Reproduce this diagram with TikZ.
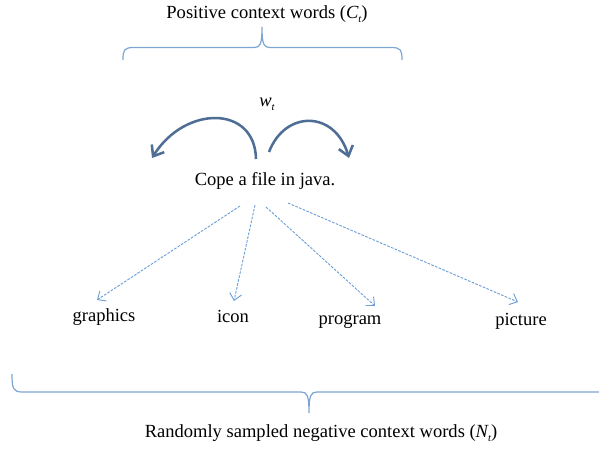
\documentclass[tikz,border=0pt]{standalone}
\usepackage{fontspec}
\setmainfont{Liberation Serif}
\usetikzlibrary{arrows.meta}
\definecolor{arcblue}{RGB}{78,110,150}
\definecolor{dashblue}{RGB}{110,160,215}
\definecolor{braceblue}{RGB}{125,165,210}
\newcommand\subt{\raisebox{-0.45ex}{\footnotesize\itshape t}}
\tikzset{
  lbl/.style={font=\fontsize{13.9}{16}\selectfont, inner sep=0pt},
  arcarrow/.style={draw=arcblue, line width=1.9pt, -{Straight Barb[length=7pt,width=11pt,line width=1.9pt]}},
  negarrow/.style={draw=dashblue, line width=0.7pt, dash pattern=on 2pt off 1pt, -{Straight Barb[length=5pt,width=9pt,line width=0.7pt]}},
  bracestyle/.style={draw=braceblue, line width=0.9pt}
}
\begin{document}
\begin{tikzpicture}[x=0.75pt,y=-0.75pt]
\useasboundingbox (0,0) rectangle (599,449);
% texts
\node[lbl] (pos) at (267,14) {Positive context words ({\itshape C}\subt)};
\node[lbl] (wt) at (267,104) {{\itshape w}\subt};
\node[lbl] (cope) at (265,181) {Cope a file in java.};
\node[lbl] (graphics) at (104,317) {graphics};
\node[lbl] (icon) at (233,316) {icon};
\node[lbl] (program) at (350,322) {program};
\node[lbl] (picture) at (521,321) {picture};
\node[lbl] (neg) at (321,433) {Randomly sampled negative context words ({\itshape N}\subt)};
% top brace
\coordinate (tbl) at (123,60);
\coordinate (tbr) at (402,60);
\coordinate (tbtip) at (262,27);
\draw[bracestyle] (tbl) .. controls (123,50) and (124,47.5) .. (134,47.5)
  -- (254,47.5) .. controls (260,47.5) and (262,45) .. (tbtip)
  .. controls (262,45) and (264,47.5) .. (270,47.5)
  -- (391,47.5) .. controls (401,47.5) and (402,50) .. (tbr);
% bottom brace
\coordinate (bbl) at (12,374);
\coordinate (bbr) at (600,392);
\coordinate (bbtip) at (309,413);
\draw[bracestyle] (bbl) .. controls (12,388) and (13,392) .. (22,392)
  -- (301,392) .. controls (307,392) and (309,395) .. (bbtip)
  .. controls (309,395) and (311,392) .. (317,392)
  -- (bbr);
% arcs
\coordinate (la) at (256,159);
\coordinate (lb) at (152,158);
\coordinate (ra) at (269,152);
\coordinate (rb) at (349,158);
\draw[arcarrow] (la) .. controls (255,105) and (185,105) .. (lb);
\draw[arcarrow] (ra) .. controls (285,110) and (335,110) .. (rb);
% negative sample arrows
\coordinate (s1) at (240,206);
\coordinate (s2) at (255,205);
\coordinate (s3) at (266,207);
\coordinate (s4) at (288,203);
\coordinate (e1) at (97,300);
\coordinate (e2) at (234,301);
\coordinate (e3) at (375,306);
\coordinate (e4) at (518,302);
\draw[negarrow] (s1) -- (e1);
\draw[negarrow] (s2) -- (e2);
\draw[negarrow] (s3) -- (e3);
\draw[negarrow] (s4) -- (e4);
\end{tikzpicture}
\end{document}
